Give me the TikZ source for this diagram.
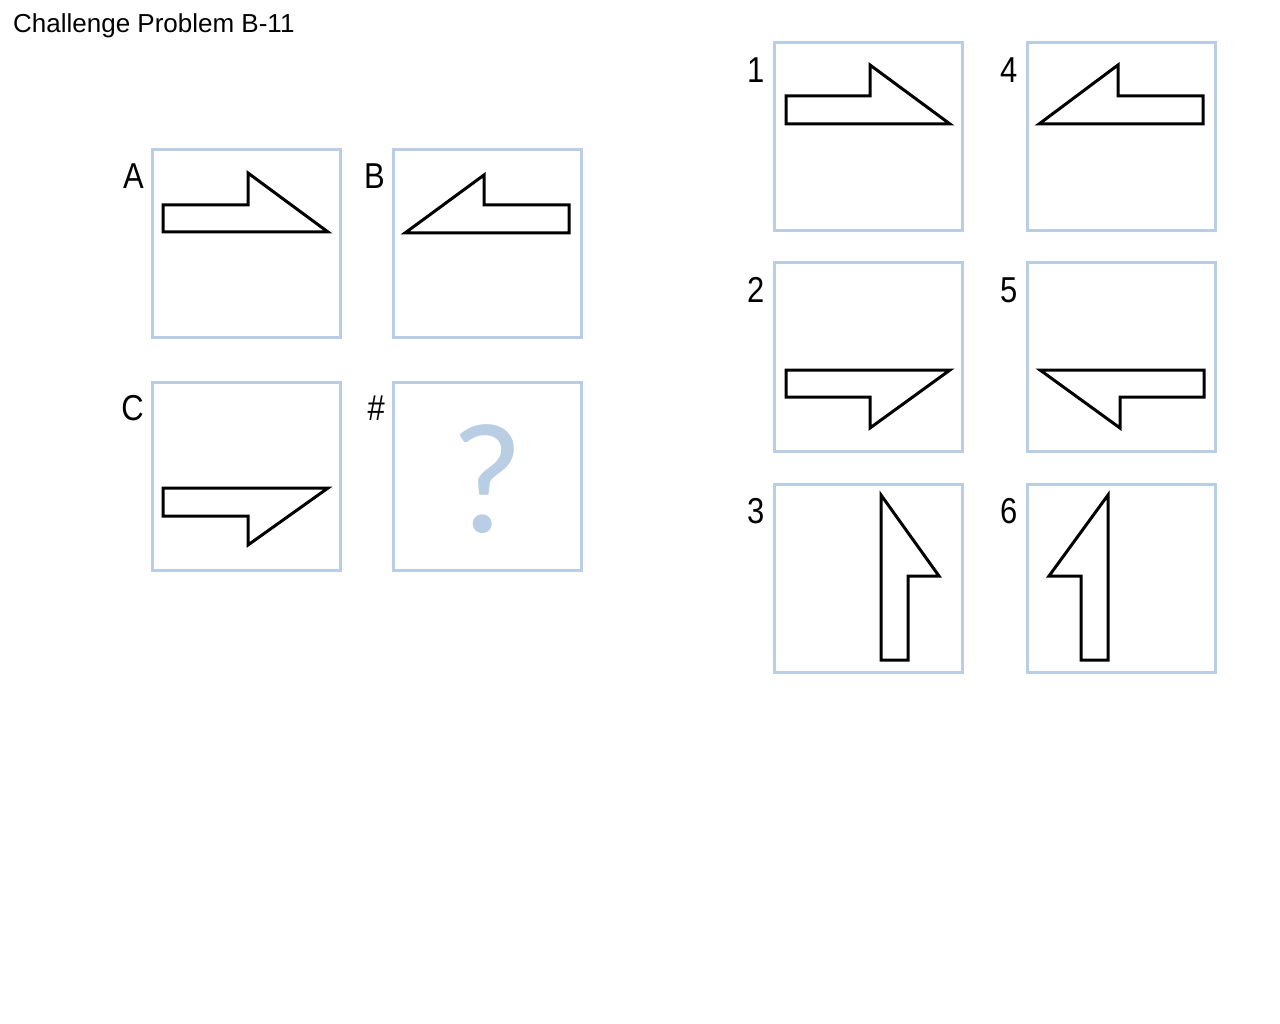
\documentclass[tikz,border=0pt]{standalone}
\usepackage{fontspec}
\setmainfont[FakeStretch=0.86]{Liberation Sans}
\newfontfamily\titlefont{Liberation Sans}
\newfontfamily\qfont{Carlito}
\usetikzlibrary{positioning}
\definecolor{panelblue}{RGB}{185,205,229}

\begin{document}
\begin{tikzpicture}[x=1pt,y=-1pt,
   panel/.style={draw=panelblue,line width=3pt,minimum size=188pt,inner sep=0pt,on grid},
   tag/.style={inner sep=0pt,font=\fontsize{36}{40}\selectfont},
   fig/.style={draw,line width=3pt,line join=miter}]
   \useasboundingbox (0,0) rectangle (1280,1024);
   \node[anchor=north west,inner sep=0pt,font=\titlefont\fontsize{26}{30}\selectfont] (title) at (13,13) {Challenge Problem B-11};
   % question panels
   \node[panel] (A) at (246,244) {};
   \node[panel] (B) [right=241pt of A] {};
   \node[panel] (C) [below=232pt of A] {};
   \node[panel] (Q) [below=232pt of B] {};
   \node[text=panelblue,inner sep=0pt,font=\qfont\fontsize{158}{160}\selectfont] (q) at ([yshift=-3pt]Q.center) {?};
   % answer panels
   \node[panel] (n1) at (868,137) {};
   \node[panel] (n2) [below=220pt of n1] {};
   \node[panel] (n3) [below=221pt of n2] {};
   \node[panel] (n4) [right=253pt of n1] {};
   \node[panel] (n5) [right=253pt of n2] {};
   \node[panel] (n6) [right=253pt of n3] {};
   \foreach \p/\t in {A/A,B/B,C/C,Q/\#}
      \node[tag,below left=15pt and 6.5pt of \p.north west] (t\p) {\t};
   \foreach \p in {1,...,6}
      \node[tag,below left=16pt and 8pt of n\p.north west] (tn\p) {\p};
   % figures
   \draw[fig] (163,205) -- (248,205) -- (248,173) -- (328,232) -- (163,232) -- cycle;
   \draw[fig] (405,233) -- (484,175) -- (484,205) -- (569,205) -- (569,233) -- cycle;
   \draw[fig] (163,488) -- (328,488) -- (248,545) -- (248,516) -- (163,516) -- cycle;
   \draw[fig] (786,96) -- (870,96) -- (870,65) -- (950,124) -- (786,124) -- cycle;
   \draw[fig] (786,370) -- (950,370) -- (870,428) -- (870,397) -- (786,397) -- cycle;
   \draw[fig] (881,495) -- (939,576) -- (908,576) -- (908,660) -- (881,660) -- cycle;
   \draw[fig] (1039,124) -- (1118,65) -- (1118,96) -- (1203,96) -- (1203,124) -- cycle;
   \draw[fig] (1040,370) -- (1204,370) -- (1204,397) -- (1120,397) -- (1120,428) -- cycle;
   \draw[fig] (1108,495) -- (1108,660) -- (1081,660) -- (1081,576) -- (1049,576) -- cycle;
\end{tikzpicture}
\end{document}
